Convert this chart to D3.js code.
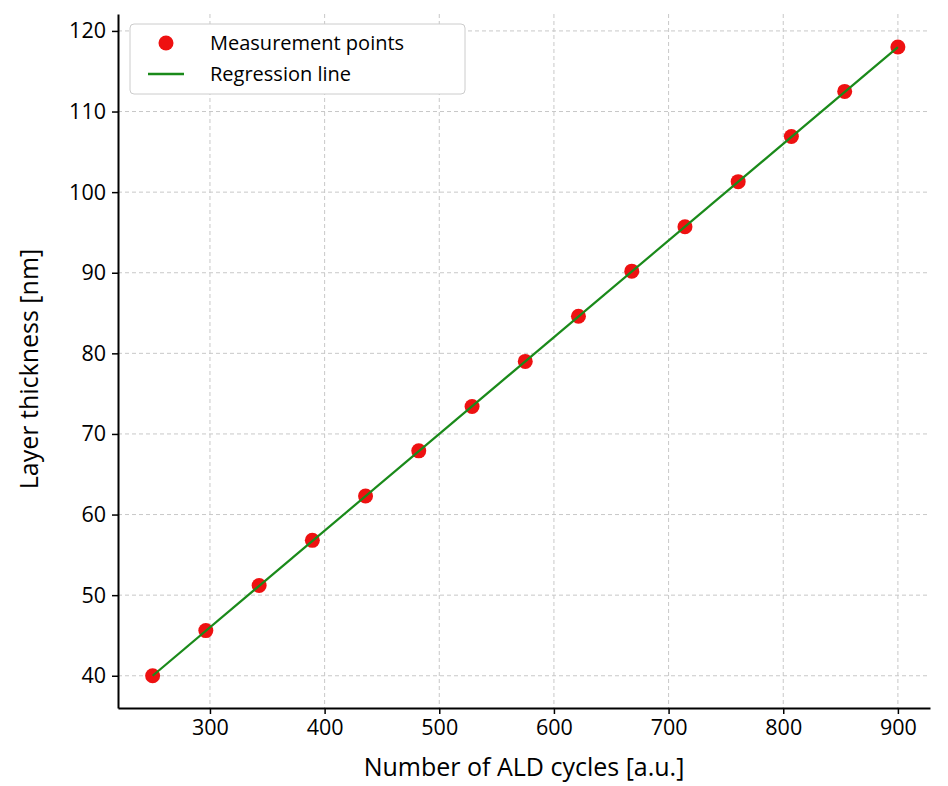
<!DOCTYPE html>
<html><head><meta charset="utf-8">
<script src="https://cdn.jsdelivr.net/npm/d3@7"></script>
<style>body{margin:0;background:#fff}svg{font-family:"Open Sans",sans-serif}</style>
</head><body><svg id="chart"></svg>
<script>
const data = [
  {x: 250, y: 40.0}, {x: 296.4, y: 45.6}, {x: 342.9, y: 51.2}, {x: 389.3, y: 56.8},
  {x: 435.7, y: 62.3}, {x: 482.1, y: 67.9}, {x: 528.6, y: 73.4}, {x: 575.0, y: 79.0},
  {x: 621.4, y: 84.6}, {x: 667.9, y: 90.2}, {x: 714.3, y: 95.7}, {x: 760.7, y: 101.3},
  {x: 807.1, y: 106.9}, {x: 853.6, y: 112.5}, {x: 900, y: 118.0}
];
const margin = { top: 14, bottom: 78, left: 118, right: 18 };
const width = 948 - margin.left - margin.right;
const height = 786 - margin.top - margin.bottom;

const svg = d3.select("#chart").attr("width", 948).attr("height", 786);
const g = svg.append("g").attr("transform", `translate(${margin.left},${margin.top})`);

const xscale = d3.scaleLinear().domain([219.8, 928]).range([0, width]);
const yscale = d3.scaleLinear().domain([36.0, 122.1]).range([height, 0]);

// grid
const xt = d3.range(300, 901, 100), yt = d3.range(40, 121, 10);
g.selectAll(".gx").data(xt).join("line").attr("x1", d => xscale(d)).attr("x2", d => xscale(d))
  .attr("y1", 0).attr("y2", height).attr("stroke", "#c8c8c8").attr("stroke-dasharray", "4,3");
g.selectAll(".gy").data(yt).join("line").attr("y1", d => yscale(d)).attr("y2", d => yscale(d))
  .attr("x1", 0).attr("x2", width).attr("stroke", "#c8c8c8").attr("stroke-dasharray", "4,3");

const xaxis = g.append("g").attr("transform", `translate(0,${height})`)
  .call(d3.axisBottom(xscale).tickValues(xt).tickSize(6).tickPadding(6).tickSizeOuter(0));
const yaxis = g.append("g").call(d3.axisLeft(yscale).tickValues(yt).tickSize(6).tickPadding(6).tickSizeOuter(0));
[xaxis, yaxis].forEach(a => {
  a.selectAll("text").attr("font-size", 21.5).attr("font-family", "Open Sans").attr("fill", "#000");
  a.select(".domain").attr("stroke-width", 2);
  a.selectAll(".tick line").attr("stroke-width", 1.5);
});

g.selectAll("circle.pt").data(data).join("circle").attr("class", "pt")
  .attr("cx", d => xscale(d.x)).attr("cy", d => yscale(d.y)).attr("r", 7.5)
  .attr("fill", "#ee1111");
// regression line over the points
g.append("line").attr("x1", xscale(250)).attr("y1", yscale(40)).attr("x2", xscale(900)).attr("y2", yscale(118))
  .attr("stroke", "#1a8a1a").attr("stroke-width", 2.2);

// labels
svg.append("text").attr("x", margin.left + width / 2).attr("y", 776).attr("text-anchor", "middle")
  .attr("font-size", 25).text("Number of ALD cycles [a.u.]");
svg.append("text").attr("transform", `translate(38,${margin.top + height / 2 + 8}) rotate(-90)`)
  .attr("text-anchor", "middle").attr("font-size", 25).text("Layer thickness [nm]");

// legend
const lg = svg.append("g").attr("transform", "translate(130,24)");
lg.append("rect").attr("width", 335).attr("height", 70).attr("rx", 4).attr("fill", "#fff")
  .attr("stroke", "#ccc");
lg.append("circle").attr("cx", 36).attr("cy", 19).attr("r", 7.5).attr("fill", "#ee1111");
lg.append("line").attr("x1", 18).attr("x2", 54).attr("y1", 50).attr("y2", 50).attr("stroke", "#1a8a1a").attr("stroke-width", 2.5);
lg.append("text").attr("x", 80).attr("y", 26).attr("font-size", 20).text("Measurement points");
lg.append("text").attr("x", 80).attr("y", 57).attr("font-size", 20).text("Regression line");
</script></body></html>
